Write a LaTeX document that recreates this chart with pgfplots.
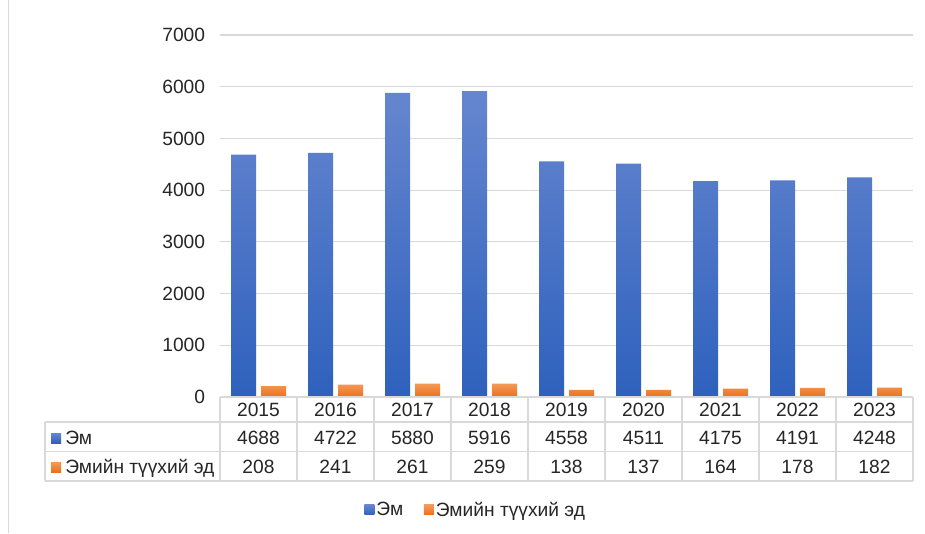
\documentclass[border=0pt]{standalone}
\usepackage{fontspec}
\setmainfont{Liberation Sans}
\usepackage{pgfplots}
\usepackage{pgfplotstable}
\pgfplotsset{compat=1.18}
\definecolor{bluetop}{HTML}{6686CF}
\definecolor{bluebot}{HTML}{2E61BD}
\definecolor{orgtop}{HTML}{F39A57}
\definecolor{orgbot}{HTML}{EC6F1E}
\definecolor{gridc}{HTML}{D9D9D9}
\definecolor{txt}{HTML}{262626}
\pgfplotstableread{
year em raw
2015 4688 208
2016 4722 241
2017 5880 261
2018 5916 259
2019 4558 138
2020 4511 137
2021 4175 164
2022 4191 178
2023 4248 182
}\data
\begin{document}
\begin{tikzpicture}[x=0.75pt,y=0.75pt,font=\fontsize{14.4}{17}\selectfont]
\useasboundingbox (0,0) rectangle (925,533);
\fill[white] (0,0) rectangle (925,533);
\draw[gridc, line width=0.75pt] (8.5,0) -- (8.5,533);
\begin{axis}[
 at={(165pt,102pt)}, anchor=south west, scale only axis,
 width=519.75pt, height=271.5pt,
 ymin=0, ymax=7000, xmin=-0.5, xmax=8.5,
 ytick={0,1000,...,7000},
 xtick=\empty,
 ybar=3.75pt, bar width=18.75pt,
 axis line style={draw=none},
 ymajorgrids, grid style={gridc, line width=0.9pt},
 major tick length=0pt,
 yticklabel style={inner sep=0pt, xshift=-11pt, text=txt, font=\fontsize{14.4}{17}\selectfont},
 /pgf/number format/assume math mode=true,
 /pgf/number format/1000 sep={},
 clip=false,
 legend style={at={(axis description cs:0.369,-0.312)}, anchor=center, draw=none, fill=none, legend columns=2, nodes={inner sep=1.5pt}, /tikz/every even column/.append style={column sep=14pt}, font=\fontsize{14.4}{17}\selectfont, text=txt},
 legend image code/.code={\path[#1] (0pt,-3.75pt) rectangle (7.5pt,3.75pt);},
]
\addplot[draw=none, top color=bluetop, bottom color=bluebot] table[x expr=\coordindex, y=em]{\data};
\addplot[draw=none, top color=orgtop, bottom color=orgbot] table[x expr=\coordindex, y=raw]{\data};
\legend{Эм, Эмийн түүхий эд}
\end{axis}
% data table
\begin{scope}[gridc, line width=1.1pt]
\draw (220,136) -- (913,136);
\draw (45,111) -- (913,111);
\draw (45,81.5) -- (913,81.5);
\draw (45,52) -- (913,52);
\draw (45,52) -- (45,111);
\foreach \k in {0,...,9} { \draw ({220+77*\k},52) -- ({220+77*\k},136); }
\end{scope}
\shade[top color=bluetop, bottom color=bluebot] (51,90) rectangle (61,100);
\shade[top color=orgtop, bottom color=orgbot] (51,61) rectangle (61,71);
\node[anchor=base west, inner sep=0pt, text=txt] at (65,89) {Эм};
\node[anchor=base west, inner sep=0pt, text=txt] at (65,60) {Эмийн түүхий эд};
\foreach \i in {0,...,8} {
  \pgfplotstablegetelem{\i}{year}\of\data \edef\yr{\pgfplotsretval}
  \pgfplotstablegetelem{\i}{em}\of\data \edef\va{\pgfplotsretval}
  \pgfplotstablegetelem{\i}{raw}\of\data \edef\vb{\pgfplotsretval}
  \node[anchor=base, inner sep=0pt, text=txt] at ({258.5+77*\i},117) {\yr};
  \node[anchor=base, inner sep=0pt, text=txt] at ({258.5+77*\i},89) {\va};
  \node[anchor=base, inner sep=0pt, text=txt] at ({258.5+77*\i},60) {\vb};
}
\end{tikzpicture}
\end{document}
